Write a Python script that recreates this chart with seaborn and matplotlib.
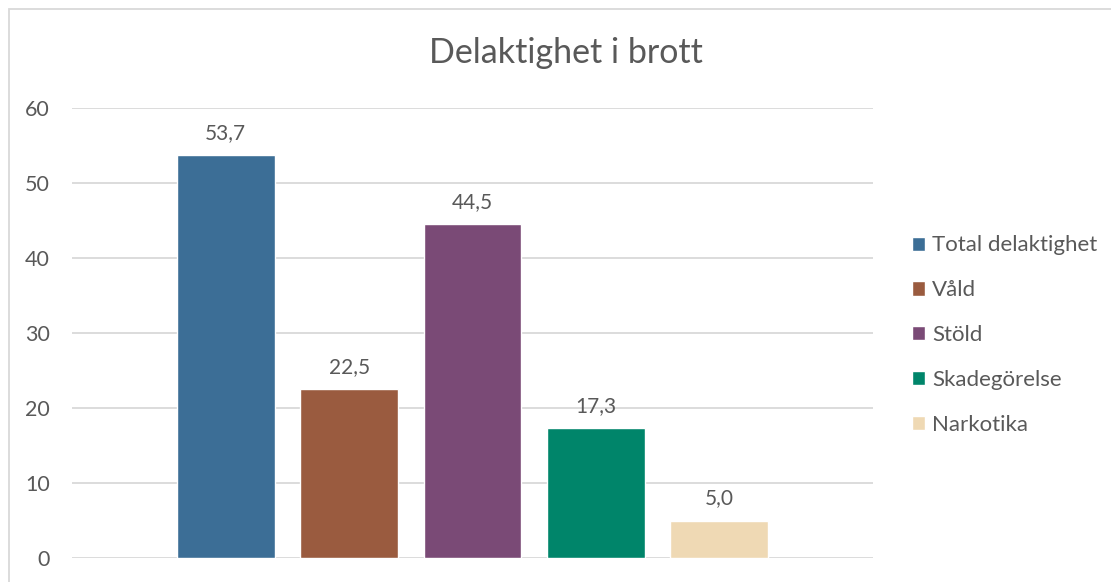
import pandas as pd
import seaborn as sns
import matplotlib
matplotlib.use('Agg')
import matplotlib.pyplot as plt
from matplotlib.patches import Rectangle

# data
kategorier = ["Total delaktighet", "Våld", "Stöld", "Skadegörelse", "Narkotika"]
andel = [53.7, 22.5, 44.5, 17.3, 5.0]
farger = ["#3C6E96", "#9A5B3F", "#7A4A76", "#00856A", "#EFD9B4"]
y_ticks = [0, 10, 20, 30, 40, 50, 60]

df = pd.DataFrame({"grupp": [""] * len(kategorier), "brott": kategorier, "andel": andel})

sns.set_theme(style="white")
plt.rcParams['font.family'] = ['Lato', 'DejaVu Sans']
grey = "#595959"

fig = plt.figure(figsize=(11.11, 5.82), dpi=100)
ax = fig.add_axes([72 / 1111, 24 / 582, 801 / 1111, 450 / 582])

sns.barplot(data=df, x="grupp", y="andel", hue="brott", hue_order=kategorier,
            palette=farger, width=0.77, gap=0.21, saturation=1, ax=ax, legend=True)

ax.set_ylim(0, 60)
ax.set_yticks(y_ticks)
ax.set_xlim(-0.5, 0.5)
ax.grid(axis="y", color="#D9D9D9", linewidth=1.3)
ax.set_axisbelow(True)
for s in ax.spines.values():
    s.set_visible(False)
ax.set_xlabel("")
ax.set_ylabel("")
ax.set_xticks([])
ax.tick_params(axis="y", length=0, pad=16, labelsize=15.5, labelcolor=grey)

# etiketter ovanför staplarna
for cont in ax.containers:
    ax.bar_label(cont, labels=[f"{v:.1f}".replace(".", ",") for v in cont.datavalues],
                 padding=9, fontsize=15, color=grey)

ax.legend(loc="center left", bbox_to_anchor=(829 / 801, 0.495), frameon=False,
          fontsize=16, labelcolor=grey, handlelength=0.6, handleheight=0.6,
          handletextpad=0.3, labelspacing=1.12, borderpad=0)

fig.text(566 / 1111, 1 - 53 / 582, "Delaktighet i brott", ha="center", va="center",
         fontsize=24.5, color=grey)

# ram runt diagrammet
fig.patches.append(Rectangle((9 / 1111, -0.1), 1.2, 1 - 9 / 582 + 0.1, transform=fig.transFigure,
                             fill=False, edgecolor="#D9D9D9", linewidth=1.3))

fig.savefig("out.png", dpi=100)
